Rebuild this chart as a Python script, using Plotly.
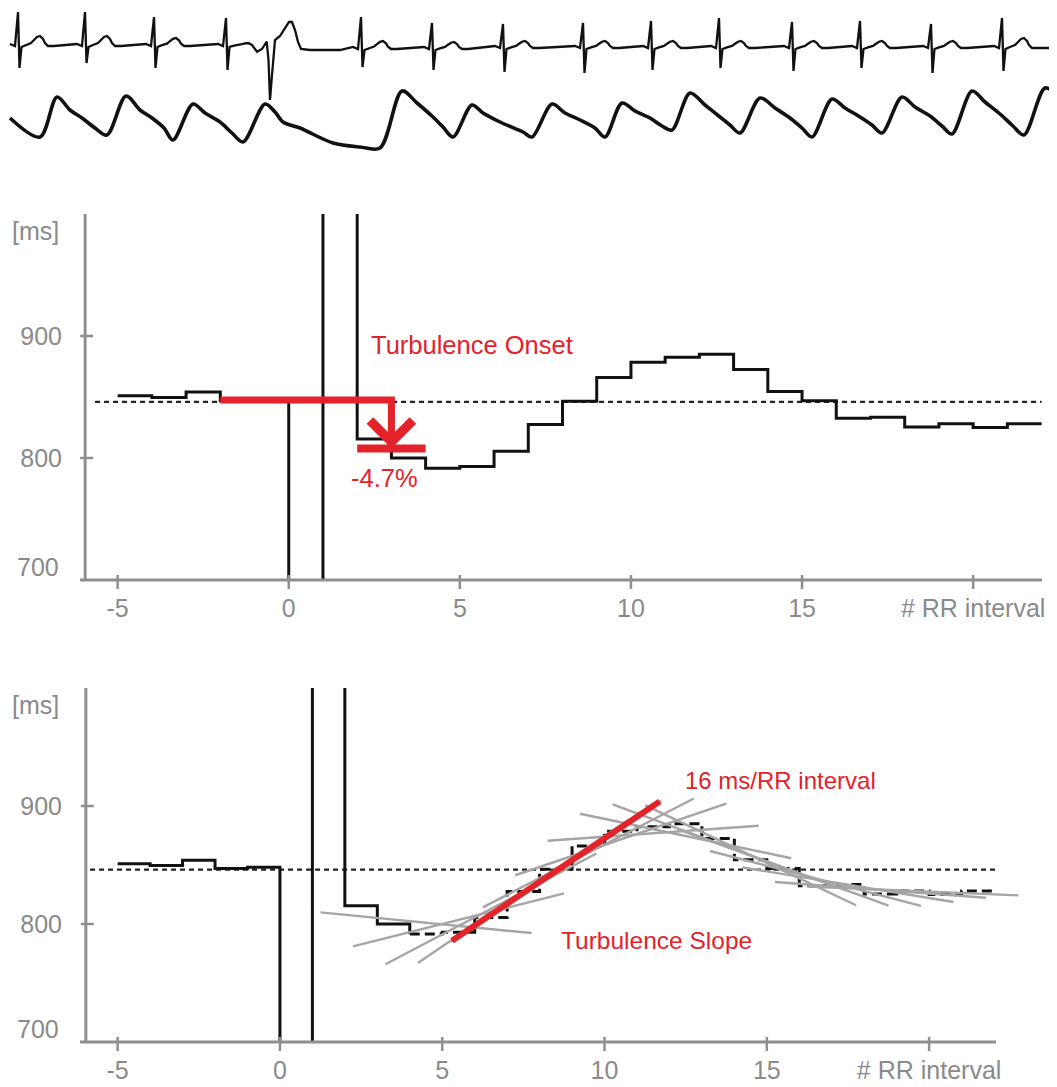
import numpy as np
import plotly.graph_objects as go

# Window size of the reference; the page body adds an 8 px margin, so the
# figure itself is 8 px smaller and every pixel position is taken relative to it.
W, H = 1057, 1087
OFF = 8
FW, FH = W - OFF, H - OFF

# ---------------- data ----------------
# Top strip: ECG and arterial pressure (pixel-like units)
ecg_beat_x = [18, 85, 154, 226, 361, 432, 503, 583, 651, 719, 792, 860, 931, 1002]
ecg_r_top = [12, 12, 17, 18, 17, 23, 24, 23, 21, 18, 22, 21, 24, 18]
ecg_s_bottom = [68, 63, 68, 70, 67, 70, 72, 73, 70, 68, 71, 68, 73, 71]
ecg_baseline = [46, 46, 46, 46, 49, 49, 48, 48, 48, 48, 48, 48, 48, 48]
ecg_t_height = [10, 10, 8, 3, 8, 7, 7, 7, 7, 7, 7, 7, 7, 10]
beat_dx = [-8, -3, 0, 1.5, 3.5, 8, 13, 16, 19, 22, 25, 27, 30, 36]
beat_part = ["b", "b", "R", "S", "b", "t", "t", "t", "t", "t", "t", "t", "t", "b"]
beat_level = [-2, 0, 0, 0, 1, 0.1, 0.3, 0.6, 0.9, 1.0, 0.7, 0.3, 0.0, 0]
pvc_x = [248, 252, 257, 262, 266.7, 268.5, 270, 272, 275, 280, 285, 289, 292, 295, 298, 301, 310, 340]
pvc_y = [43, 45, 51.7, 49, 41.7, 60, 100, 75, 40, 36, 28, 22, 22, 30, 42, 49, 50, 50]

bp_x = [10, 40, 57, 70, 82, 95, 107, 126, 140, 152, 164, 173, 193, 205, 220, 232,
        243, 265, 275, 283, 300, 333, 360, 380, 402, 417, 433, 443, 453, 472, 483,
        500, 523, 532, 552, 565, 580, 595, 605, 622, 635, 650, 662, 672, 690, 705,
        720, 730, 740, 760, 775, 790, 802, 812, 832, 845, 860, 872, 882, 902, 915,
        930, 942, 952, 972, 985, 1000, 1013, 1024, 1045, 1057]
bp_y = [118, 137, 97, 110, 118, 128, 135, 96, 110, 118, 128, 140, 104, 113, 122, 133,
        142, 104, 112, 122, 128, 143, 147, 148, 91, 103, 117, 127, 137, 105, 113,
        122, 132, 137, 104, 113, 120, 128, 137, 103, 111, 118, 126, 130, 93, 105,
        117, 125, 133, 98, 108, 118, 128, 137, 99, 108, 117, 125, 133, 97, 107,
        116, 126, 134, 91, 102, 114, 126, 135, 88, 95]

# RR tachogram: interval k is drawn from k to k+1
rr_index = list(range(-5, 22))
rr_ms = [851, 849.5, 854, 847, 848, 560, 1290, 815.5, 800, 791.5, 793, 805.5,
         827.5, 846.5, 866, 878.5, 882.5, 885, 872.5, 854.5, 847, 832.5, 833.5,
         825.5, 828, 825, 828]
baseline_ms = 846
to_pre_idx = [-2, -1]
to_post_idx = [2, 3]
ts_first_window, ts_last_window = 2, 17
ts_red_window = 6
ts_window_len = 5

x_tickvals = [-5, 0, 5, 10, 15, 20]
x_ticktext = ["-5", "0", "5", "10", "15", "# RR interval"]
y_tickvals = [800, 900]
y_ticktext = ["800", "900"]

# ---------------- styles ----------------
RED = "#e4222a"
AXC = "#8b918f"
LAB = "#8a8a8a"
FONT = "Liberation Sans, Arial, Helvetica, sans-serif"


def fx(p):  # window pixel x -> paper x
    return (p - OFF) / FW


def fy(p):  # window pixel y -> paper y
    return 1 - (p - OFF) / FH


fig = go.Figure()

# ---- top strip ----
ex, ey = [], []
for i, bx in enumerate(ecg_beat_x):
    for dx, part, lev in zip(beat_dx, beat_part, beat_level):
        x = bx + dx
        if i == 3 and x >= pvc_x[0]:
            break
        if part == "R":
            y = ecg_r_top[i]
        elif part == "S":
            y = ecg_s_bottom[i]
        elif part == "t":
            y = ecg_baseline[i] - lev * ecg_t_height[i]
        else:
            y = ecg_baseline[i] + lev
        ex.append(x)
        ey.append(y)
    if i == 3:
        ex += pvc_x
        ey += pvc_y
ex.append(W)
ey.append(ecg_baseline[-1])

fig.add_trace(go.Scatter(x=ex, y=ey, mode="lines", line=dict(color="#111", width=2.3),
                         xaxis="x", yaxis="y", hoverinfo="skip"))
fig.add_trace(go.Scatter(x=bp_x, y=bp_y, mode="lines",
                         line=dict(color="#111", width=3.6, shape="spline", smoothing=0.9),
                         xaxis="x", yaxis="y", hoverinfo="skip"))


def rr_at(k):
    return rr_ms[rr_index.index(k)]


step_x = rr_index + [rr_index[-1] + 1]
step_y = rr_ms + [rr_ms[-1]]
DOT = dict(color="#222", width=2.2, dash="5px,4px")

# ---- middle panel (Turbulence Onset) ----
fig.add_trace(go.Scatter(x=[-5.66, 22.0], y=[baseline_ms, baseline_ms], mode="lines",
                         line=DOT, xaxis="x2", yaxis="y2", hoverinfo="skip"))
fig.add_trace(go.Scatter(x=step_x, y=step_y, mode="lines", line=dict(color="#111", width=3, shape="hv"),
                         xaxis="x2", yaxis="y2", hoverinfo="skip"))
pre = float(np.mean([rr_at(k) for k in to_pre_idx]))
post = float(np.mean([rr_at(k) for k in to_post_idx]))
to_pct = (post - pre) / pre * 100
fig.add_trace(go.Scatter(x=[to_pre_idx[0], to_post_idx[-1], to_post_idx[-1]], y=[pre, pre, post],
                         mode="lines", line=dict(color=RED, width=7),
                         xaxis="x2", yaxis="y2", hoverinfo="skip"))
fig.add_trace(go.Scatter(x=[to_post_idx[0], to_post_idx[-1] + 1], y=[post, post],
                         mode="lines", line=dict(color=RED, width=8),
                         xaxis="x2", yaxis="y2", hoverinfo="skip"))
fig.add_annotation(x=to_post_idx[-1], y=post, ax=to_post_idx[-1], ay=pre,
                   xref="x2", yref="y2", axref="x2", ayref="y2", text="",
                   showarrow=True, arrowhead=4, arrowsize=1.5, arrowwidth=5.5,
                   arrowcolor=RED, standoff=0)

# ---- bottom panel (Turbulence Slope) ----
fig.add_trace(go.Scatter(x=[-5.85, 22.1], y=[baseline_ms, baseline_ms], mode="lines",
                         line=DOT, xaxis="x3", yaxis="y3", hoverinfo="skip"))
split = rr_index.index(4)
fig.add_trace(go.Scatter(x=step_x[:split + 1], y=step_y[:split + 1], mode="lines",
                         line=dict(color="#111", width=3, shape="hv"),
                         xaxis="x3", yaxis="y3", hoverinfo="skip"))
fig.add_trace(go.Scatter(x=step_x[split:], y=step_y[split:], mode="lines",
                         line=dict(color="#111", width=3, shape="hv", dash="10px,5px"),
                         xaxis="x3", yaxis="y3", hoverinfo="skip"))


def reg_line(k, half):
    i0 = rr_index.index(k)
    seg = np.array(rr_ms[i0:i0 + ts_window_len], dtype=float)
    xs = np.arange(ts_window_len) + k + 0.5
    b, a = np.polyfit(xs, seg, 1)
    c = xs.mean()
    return [c - half, c + half], [a + b * (c - half), a + b * (c + half)]


gx, gy = [], []
for k in range(ts_first_window, ts_last_window + 1):
    lx, ly = reg_line(k, 3.25)
    gx += lx + [None]
    gy += ly + [None]
fig.add_trace(go.Scatter(x=gx, y=gy, mode="lines", line=dict(color="#a5a5a5", width=2.4),
                         xaxis="x3", yaxis="y3", hoverinfo="skip", connectgaps=False))
rx, ry = reg_line(ts_red_window, 3.2)
fig.add_trace(go.Scatter(x=rx, y=ry, mode="lines", line=dict(color=RED, width=6),
                         xaxis="x3", yaxis="y3", hoverinfo="skip"))

# ---------------- axes ----------------
tickfont = dict(family=FONT, size=25, color=LAB)


def xax(domain, rng, anchor):
    return dict(domain=domain, range=rng, anchor=anchor, showgrid=False, zeroline=False,
                showline=False, ticks="", tickvals=x_tickvals, ticktext=x_ticktext,
                tickfont=tickfont, ticklabelstandoff=11, fixedrange=True)


def yax(domain, anchor):
    return dict(domain=domain, range=[700, 1000], anchor=anchor, showgrid=False, zeroline=False,
                showline=False, ticks="", tickvals=y_tickvals, ticktext=y_ticktext,
                tickfont=tickfont, ticklabelstandoff=17, fixedrange=True)


panels = [
    # xaxis, yaxis, x-domain(px), x-range, y bottom px, y top px, y-axis x value, x-axis end
    ("x2", "y2", (80, 1045), (-6.1, 22.1), 580, 214, -5.95, 22.01),
    ("x3", "y3", (80, 1057), (-6.16, 23.94), 1042, 688, -5.98, 22.06),
]

layout = dict(
    width=FW, height=FH, margin=dict(l=0, r=0, t=0, b=0),
    paper_bgcolor="white", plot_bgcolor="white", showlegend=False,
    xaxis=dict(domain=[0, 1], range=[OFF, W], visible=False, fixedrange=True),
    yaxis=dict(domain=[fy(165), 1], range=[165, OFF], visible=False, fixedrange=True),
)
shapes = []
annotations = []
for xa, ya, xd, xr, yb, yt, yaxis_x, xend in panels:
    layout["xaxis" + xa[1:]] = xax([fx(xd[0]), min(fx(xd[1]), 1.0)], list(xr), ya)
    layout["yaxis" + ya[1:]] = yax([fy(yb), fy(yt)], xa)
    y0p = fy(yb)
    # x axis line
    shapes.append(dict(type="line", xref=xa, yref="paper", x0=xr[0], x1=xend, y0=y0p, y1=y0p,
                       line=dict(color=AXC, width=3)))
    # y axis line
    shapes.append(dict(type="line", xref=xa, yref=ya, x0=yaxis_x, x1=yaxis_x, y0=700, y1=1000,
                       line=dict(color=AXC, width=3)))
    for v in x_tickvals:
        shapes.append(dict(type="line", xref=xa, yref="paper", x0=v, x1=v, ysizemode="pixel",
                           yanchor=y0p, y0=-9, y1=5, line=dict(color=AXC, width=2.5)))
    for v in y_tickvals:
        shapes.append(dict(type="line", xref=xa, yref=ya, xsizemode="pixel", xanchor=yaxis_x,
                           x0=-5, x1=8, y0=v, y1=v, line=dict(color=AXC, width=2.5)))
    annotations.append(dict(text="[ms]", xref="paper", yref="paper", x=fx(61), y=fy(yt + 17),
                            xanchor="right", yanchor="middle", showarrow=False, font=tickfont))
    annotations.append(dict(text="700", xref="paper", yref="paper", x=fx(61), y=fy(yb - 13),
                            xanchor="right", yanchor="middle", showarrow=False, font=tickfont))

annotations += [
    dict(text="Turbulence Onset", xref="x2", yref="y2", x=5.36, y=892.6, showarrow=False,
         xanchor="center", yanchor="middle", font=dict(family=FONT, size=25.5, color=RED)),
    dict(text=f"{to_pct:.1f}%", xref="x2", yref="y2", x=2.81, y=783.6, showarrow=False,
         xanchor="center", yanchor="middle", font=dict(family=FONT, size=25.5, color=RED)),
    dict(text="16 ms/RR interval", xref="x3", yref="y3", x=15.43, y=921.2, showarrow=False,
         xanchor="center", yanchor="middle", font=dict(family=FONT, size=24, color=RED)),
    dict(text="Turbulence Slope", xref="x3", yref="y3", x=11.61, y=785.6, showarrow=False,
         xanchor="center", yanchor="middle", font=dict(family=FONT, size=24.5, color=RED)),
]

fig.update_layout(**layout)
fig.update_layout(shapes=shapes)
for a in annotations:
    fig.add_annotation(**a)

fig.write_html("out.html")
